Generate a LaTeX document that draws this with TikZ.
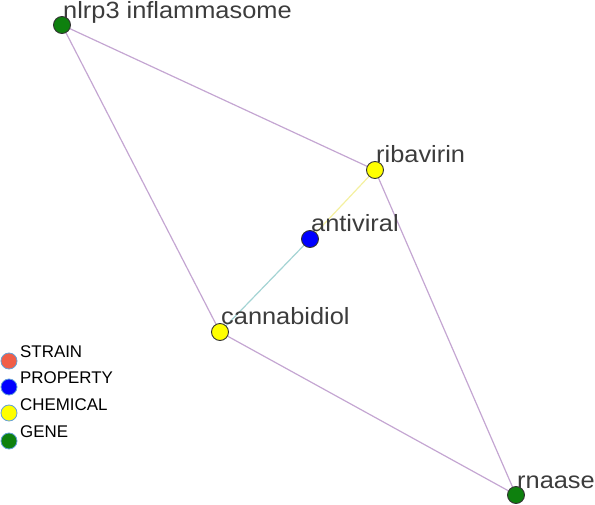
\documentclass[tikz,border=0pt]{standalone}
\usepackage{fontspec}
\setmainfont{Liberation Sans}
\newfontfamily\lblfont[FakeStretch=1.08]{Liberation Sans}
\usetikzlibrary{backgrounds}
\definecolor{genegreen}{RGB}{14,128,14}
\definecolor{propblue}{RGB}{0,0,255}
\definecolor{chemyellow}{RGB}{255,255,0}
\definecolor{strainred}{RGB}{240,94,72}
\definecolor{edgepurple}{RGB}{196,166,210}
\definecolor{edgeyellow}{RGB}{244,240,160}
\definecolor{edgeteal}{RGB}{164,212,212}
\definecolor{lblgray}{RGB}{60,60,60}
\definecolor{legendring}{RGB}{100,160,215}
\tikzset{
  gnode/.style={circle, draw=black!80, line width=0.9pt, minimum size=17pt, inner sep=0pt},
  lbl/.style={anchor=base west, inner sep=0pt, text=lblgray, font=\lblfont\fontsize{23.5}{27}\selectfont},
  lgdot/.style={circle, draw=legendring, line width=0.8pt, minimum size=16pt, inner sep=0pt},
  lgtext/.style={anchor=base west, inner sep=0pt, text=black, font=\fontsize{16.9}{19}\selectfont},
  edge/.style={line width=1.2pt, draw=edgepurple}
}
\begin{document}
\begin{tikzpicture}[x=1pt,y=-1pt]
\useasboundingbox (0,0) rectangle (595,505);
% nodes
\node[gnode, fill=genegreen] (nlrp3) at (62,25) {};
\node[gnode, fill=chemyellow] (ribavirin) at (375,170) {};
\node[gnode, fill=propblue] (antiviral) at (310,239) {};
\node[gnode, fill=chemyellow] (cannabidiol) at (220,332) {};
\node[gnode, fill=genegreen] (rnaase) at (516,495) {};
% labels
\node[lbl] (lnlrp3) at ([xshift=1pt,yshift=6pt]nlrp3.center) {nlrp3 inflammasome};
\node[lbl] (lribavirin) at ([xshift=1pt,yshift=7pt]ribavirin.center) {ribavirin};
\node[lbl] (lantiviral) at ([xshift=1pt,yshift=7pt]antiviral.center) {antiviral};
\node[lbl] (lcannabidiol) at ([xshift=1pt,yshift=7pt]cannabidiol.center) {cannabidiol};
\node[lbl] (lrnaase) at ([xshift=1pt,yshift=7pt]rnaase.center) {rnaase};
% edges
\begin{pgfonlayer}{background}
\draw[edge] (nlrp3) -- (ribavirin);
\draw[edge] (nlrp3) -- (cannabidiol);
\draw[edge] (ribavirin) -- (rnaase);
\draw[edge] (cannabidiol) -- (rnaase);
\draw[edge, draw=edgeyellow] (ribavirin) -- (antiviral);
\draw[edge, draw=edgeteal] (antiviral) -- (cannabidiol);
\end{pgfonlayer}
% legend
\node[lgdot, fill=strainred] (dstrain) at (9,361) {};
\node[lgdot, fill=propblue] (dprop) at (9,387) {};
\node[lgdot, fill=chemyellow] (dchem) at (9,413) {};
\node[lgdot, fill=genegreen] (dgene) at (9,441) {};
\node[lgtext] (tstrain) at (20,357.5) {STRAIN};
\node[lgtext] (tprop) at (20,384) {PROPERTY};
\node[lgtext] (tchem) at (20,410.5) {CHEMICAL};
\node[lgtext] (tgene) at (20,437.5) {GENE};
\end{tikzpicture}
\end{document}
